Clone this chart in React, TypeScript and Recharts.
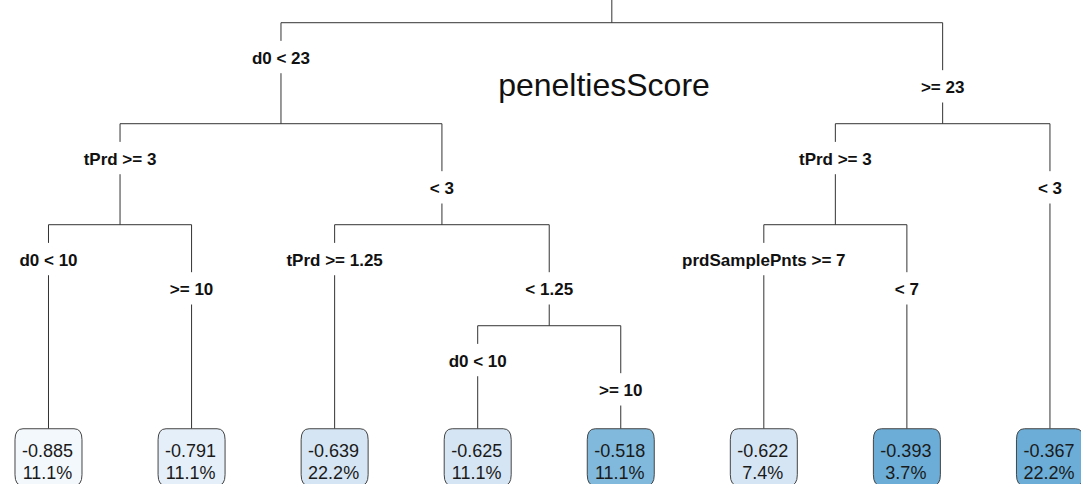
import { ScatterChart, Scatter, XAxis, YAxis, ReferenceLine, Customized } from "recharts";

// rpart node numbers: the children of node n are 2n (left) and 2n+1 (right)
const splitNodes = [2, 3, 4, 5, 6, 7, 8, 9, 10, 11, 12, 13, 22, 23];
const splitLabels = [
  "d0 < 23", ">= 23",
  "tPrd >= 3", "< 3", "tPrd >= 3", "< 3",
  "d0 < 10", ">= 10", "tPrd >= 1.25", "< 1.25", "prdSamplePnts >= 7", "< 7",
  "d0 < 10", ">= 10",
];
const leafNodes = [8, 9, 10, 22, 23, 12, 13, 7];
const leafValues = [-0.885, -0.791, -0.639, -0.625, -0.518, -0.622, -0.393, -0.367];
const leafPercents = [11.1, 11.1, 22.2, 11.1, 11.1, 7.4, 3.7, 22.2];
const title = "peneltiesScore";

const FONT = "'Liberation Sans', Arial, Helvetica, sans-serif";
const LINE = "#333";
const LEAF_DEPTH = 4.02;

const leafIndex: Record<number, number> = {};
leafNodes.forEach((n, i) => (leafIndex[n] = i));
const isLeaf = (n: number) => n in leafIndex;
const depthOf = (n: number) => Math.floor(Math.log2(n));
const nodeX = (n: number): number => (isLeaf(n) ? leafIndex[n] : (nodeX(2 * n) + nodeX(2 * n + 1)) / 2);
const nodeY = (n: number) => (isLeaf(n) ? LEAF_DEPTH : depthOf(n));
const labelY = (n: number) => depthOf(n) - 1 + (n % 2 === 0 ? 0.35 : 0.64);

const labelData = splitNodes.map((n, i) => ({ x: nodeX(n), y: labelY(n), label: splitLabels[i] }));
const leafData = leafNodes.map((n, i) => ({ x: nodeX(n), y: nodeY(n), value: leafValues[i], pct: leafPercents[i] }));

type Seg = [{ x: number; y: number }, { x: number; y: number }];
const segments: Seg[] = [[{ x: nodeX(1), y: -0.3 }, { x: nodeX(1), y: 0 }]];
const internal = [1, ...splitNodes.filter((n) => !isLeaf(n))];
internal.forEach((n) => {
  const d = depthOf(n);
  segments.push([{ x: nodeX(2 * n), y: d }, { x: nodeX(2 * n + 1), y: d }]);
});
splitNodes.forEach((c) => {
  const x = nodeX(c);
  const ly = labelY(c);
  segments.push([{ x, y: depthOf(c) - 1 }, { x, y: ly - 0.17 }]);
  segments.push([{ x, y: ly + 0.15 }, { x, y: nodeY(c) }]);
});

const leafFill = (v: number) => {
  if (v < -0.85) return "#f3f8fd";
  if (v < -0.7) return "#e5eff9";
  if (v < -0.6) return "#d5e5f3";
  if (v < -0.45) return "#80b9dc";
  return "#6badd6";
};

const LeafBox = (props: any) => {
  const { cx, cy, payload } = props;
  const w = 67;
  const h = 57;
  const l = cx - w / 2;
  const r = cx + w / 2;
  const rx = 8;
  const ry = 11;
  const d = `M${l + rx},${cy} L${r - rx},${cy} Q${r},${cy} ${r},${cy + ry} L${r},${cy + h - ry} Q${r},${cy + h} ${r - rx},${cy + h} L${l + rx},${cy + h} Q${l},${cy + h} ${l},${cy + h - ry} L${l},${cy + ry} Q${l},${cy} ${l + rx},${cy} Z`;
  return (
    <g>
      <path d={d} fill={leafFill(payload.value)} stroke="#444" strokeWidth={1} />
      <text x={cx - 1} y={cy + 28} textAnchor="middle" fontSize={18} fontFamily={FONT} fill="#1a1a1a">
        {payload.value.toFixed(3)}
      </text>
      <text x={cx - 1} y={cy + 50} textAnchor="middle" fontSize={18} fontFamily={FONT} fill="#1a1a1a">
        {payload.pct.toFixed(1)}%
      </text>
    </g>
  );
};

const SplitLabel = (props: any) => {
  const { cx, cy, payload } = props;
  return (
    <text x={cx} y={cy + 6} textAnchor="middle" fontSize={17} fontWeight="bold" fontFamily={FONT} fill="#111">
      {payload.label}
    </text>
  );
};

const Title = () => (
  <text x={604} y={96} textAnchor="middle" fontSize={32} fontFamily={FONT} fill="#111">
    {title}
  </text>
);

export default function App() {
  return (
    <div style={{ position: "absolute", left: 0, top: 0, width: 1081, height: 484, background: "#fff" }}>
      <ScatterChart width={1081} height={484} margin={{ top: 0, right: 0, bottom: 0, left: 0 }}>
        <XAxis type="number" dataKey="x" domain={[-0.339, 7.217]} allowDataOverflow hide />
        <YAxis type="number" dataKey="y" domain={[-0.2248, 4.567]} reversed allowDataOverflow hide />
        {segments.map((s, i) => (
          <ReferenceLine key={i} segment={s} stroke={LINE} strokeWidth={1} ifOverflow="visible" />
        ))}
        <Scatter data={labelData} shape={SplitLabel} isAnimationActive={false} />
        <Scatter data={leafData} shape={LeafBox} isAnimationActive={false} />
        <Customized component={Title} />
      </ScatterChart>
    </div>
  );
}
